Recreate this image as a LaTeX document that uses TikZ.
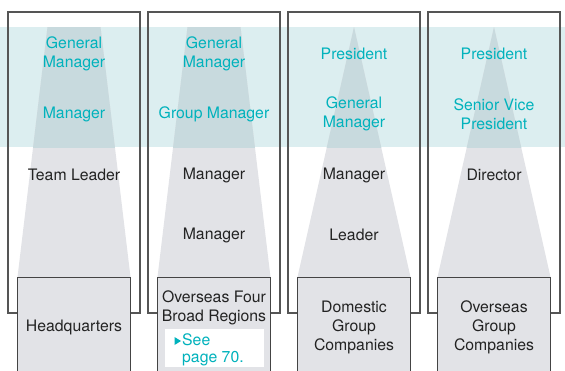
\documentclass[tikz,border=0pt]{standalone}
\usepackage{fontspec}
\setmainfont{TeX Gyre Heros}

\definecolor{bandteal}{RGB}{220,238,240}
\definecolor{pyrgray}{RGB}{226,227,231}
\definecolor{pyrteal}{RGB}{200,218,222}
\definecolor{tealtext}{RGB}{0,178,188}
\definecolor{inkdark}{RGB}{35,35,35}
\definecolor{framegray}{RGB}{85,85,85}

\begin{document}
\begin{tikzpicture}[x=1pt,y=-1pt,
    rank/.style={align=center,inner sep=0pt,yshift=-1pt,text=inkdark,font=\fontsize{15.8}{19}\selectfont},
    upper/.style={rank,text=tealtext},
    frame/.style={draw=framegray,line width=1.1pt},
    unit/.style={fill=pyrgray,draw=inkdark!85,line width=0.9pt}]
        \clip (0,0) rectangle (565,370);
        % management band
        \fill[bandteal] (0,27) rectangle (565,147);
        \foreach \cx in {74,214,354,494}{\draw[frame] (\cx-66,12) rectangle (\cx+66,313);}
        % pyramids, darker where they cross the band
        \foreach \cx/\w in {74/26.5,214/26.5,354/0,494/0}{
          \fill[pyrgray] (\cx-\w,27) -- (\cx+\w,27) -- (\cx+56.5,277) -- (\cx-56.5,277) -- cycle;
          \begin{scope}
            \clip (0,27) rectangle (565,147);
            \fill[pyrteal] (\cx-\w,27) -- (\cx+\w,27) -- (\cx+56.5,277) -- (\cx-56.5,277) -- cycle;
          \end{scope}}
        \foreach \cx in {74,214,354,494}{\draw[unit] (\cx-56.5,277) rectangle (\cx+56.5,380);}

        % headquarters
        \node[upper] (gm1) at (74,53) {General\\Manager};
        \node[upper] (mg1) at (74,113) {Manager};
        \node[rank] (tl1) at (74,174) {Team Leader};
        \node[rank] (hq) at (74,326) {Headquarters};
        % overseas regions
        \node[upper] (gm2) at (214,53) {General\\Manager};
        \node[upper] (gpm2) at (214,113) {Group Manager};
        \node[rank] (mg2) at (214,174) {Manager};
        \node[rank] (mg2b) at (214,234) {Manager};
        \node[rank] (regions) at (214,306.5) {Overseas Four\\Broad Regions};
        \fill[white] (165,329) rectangle (264,367);
        \node[upper,anchor=west,align=left,font=\fontsize{15.8}{16.5}\selectfont] (see) at (182,349) {See\\page 70.};
        \fill[tealtext] (174.5,337) -- (181,341) -- (174.5,345) -- cycle;
        % domestic companies
        \node[upper] (pr3) at (354,53) {President};
        \node[upper] (gm3) at (354,113) {General\\Manager};
        \node[rank] (mg3) at (354,174) {Manager};
        \node[rank] (ld3) at (354,234) {Leader};
        \node[rank] (dom) at (354,326) {Domestic\\Group\\Companies};
        % overseas companies
        \node[upper] (pr4) at (494,53) {President};
        \node[upper] (svp4) at (494,113) {Senior Vice\\President};
        \node[rank] (dir4) at (494,174) {Director};
        \node[rank] (ovs) at (494,326) {Overseas\\Group\\Companies};
      \end{tikzpicture}
\end{document}
